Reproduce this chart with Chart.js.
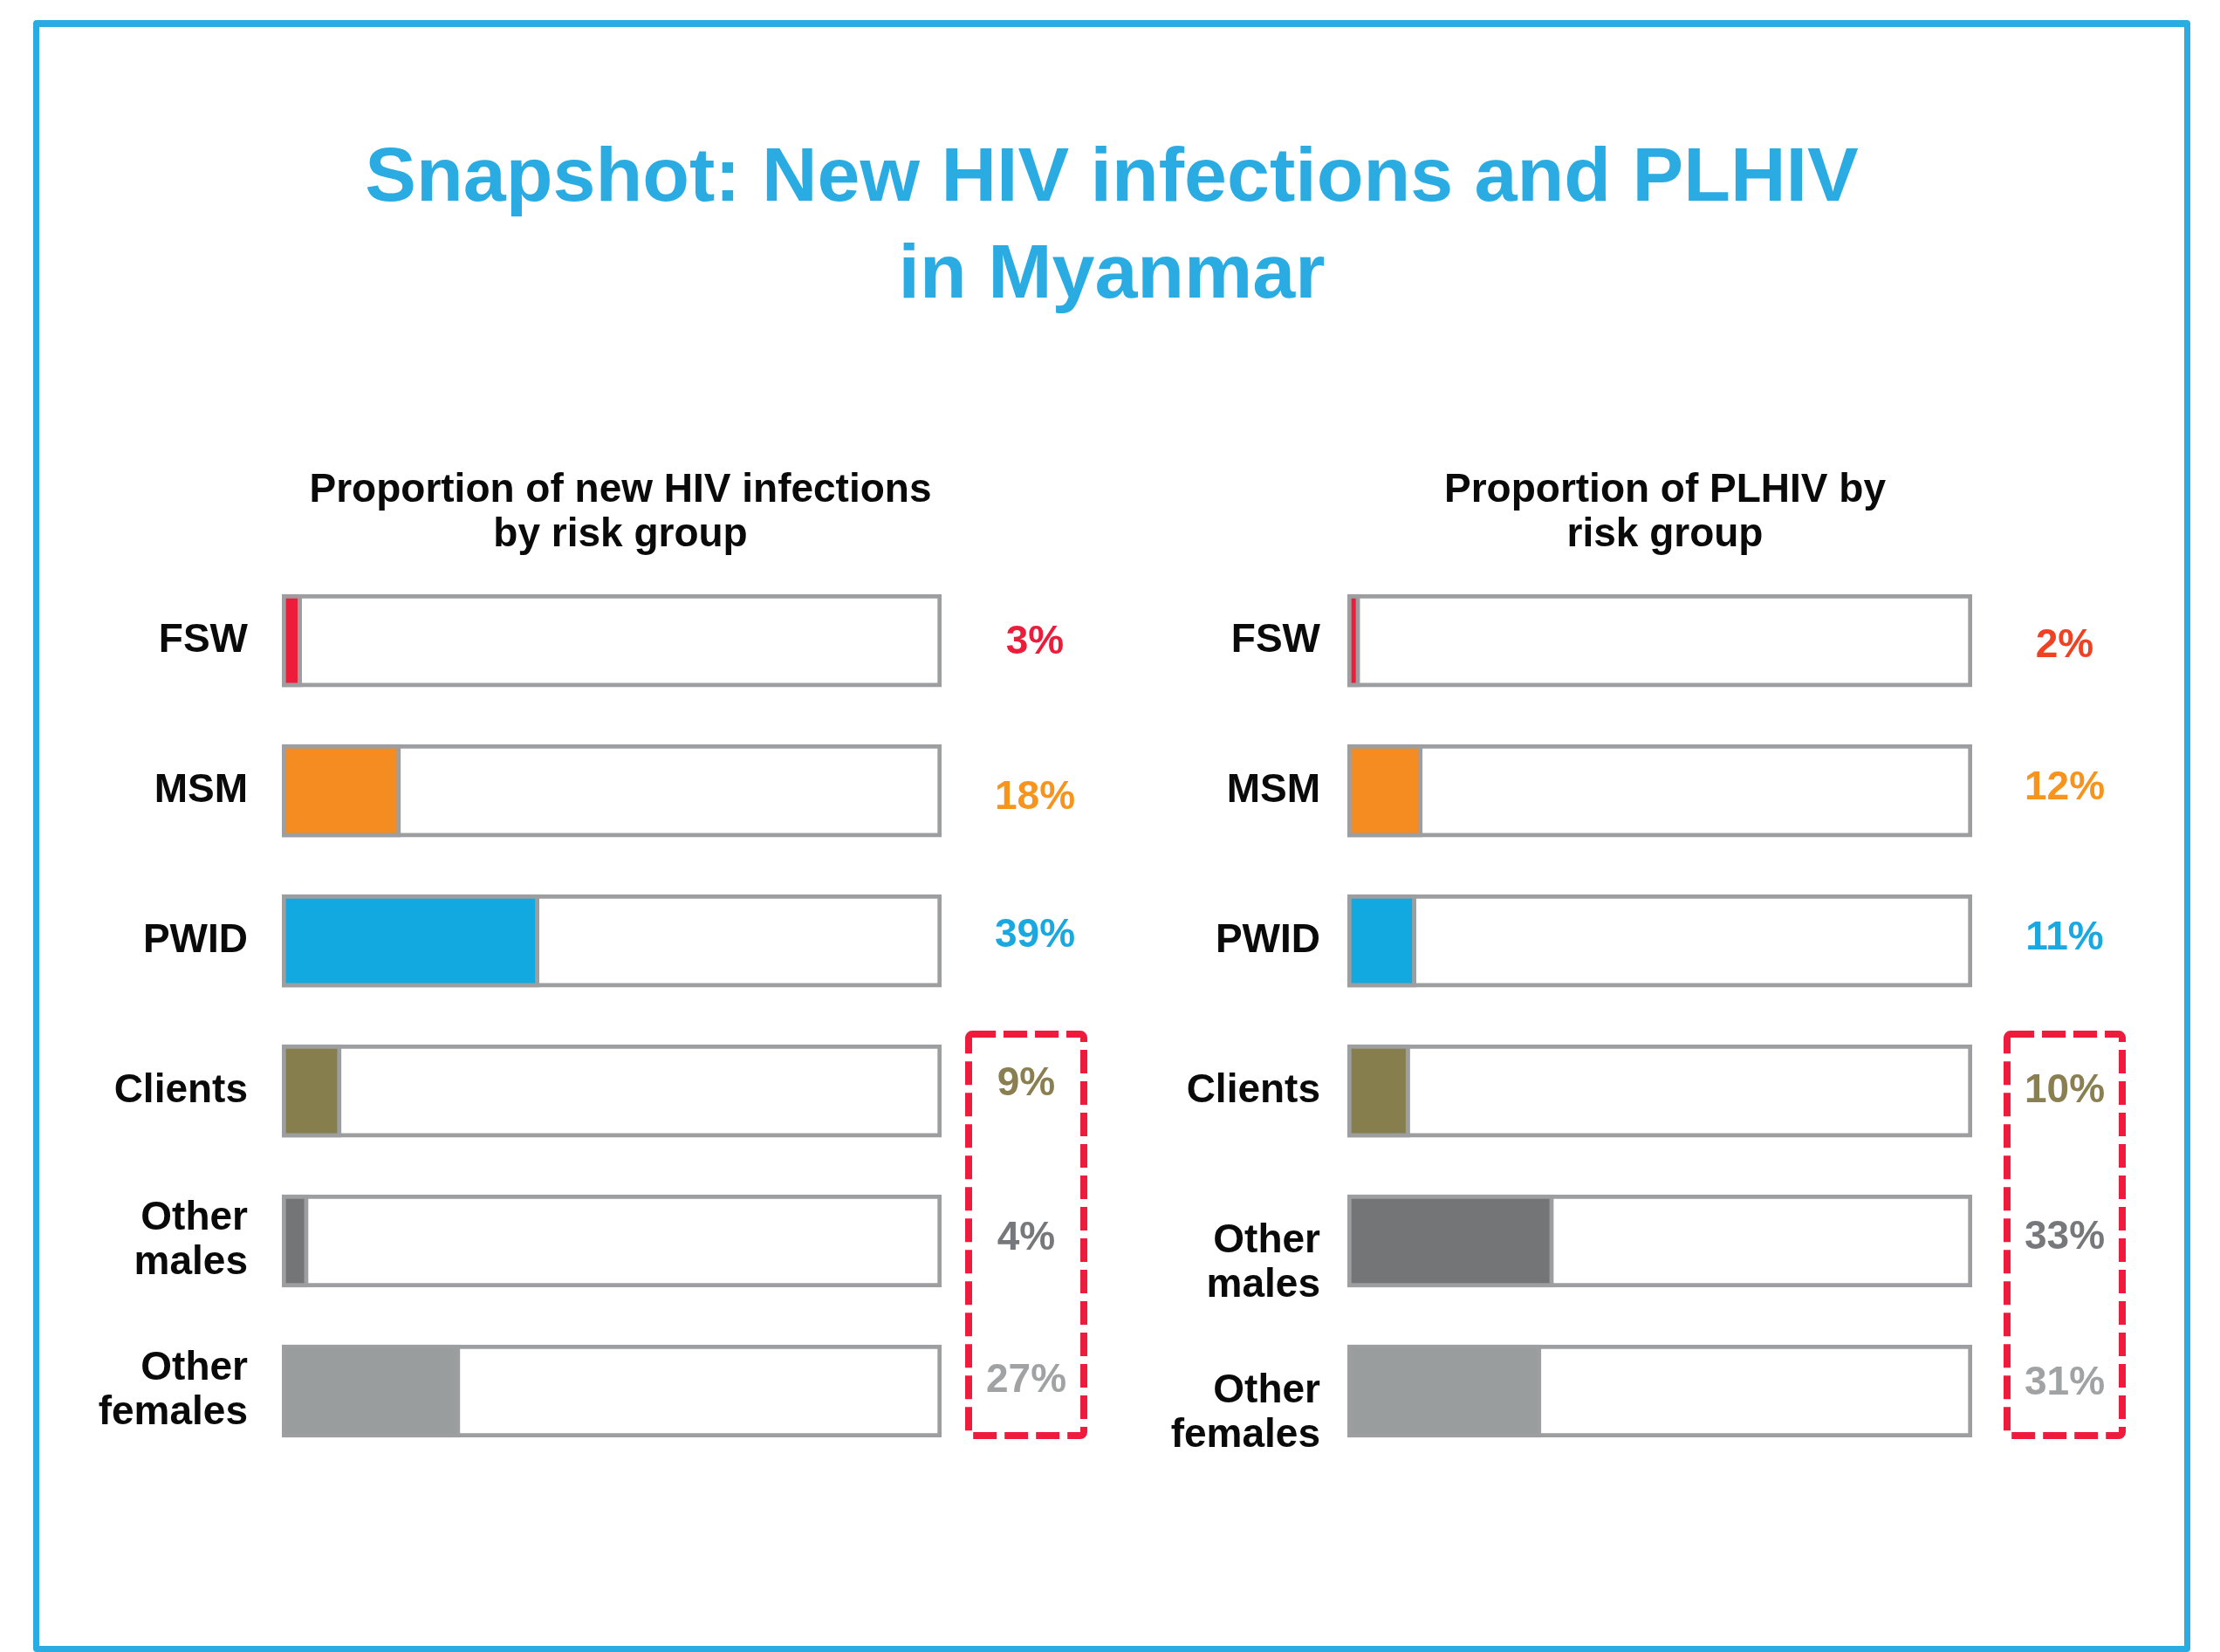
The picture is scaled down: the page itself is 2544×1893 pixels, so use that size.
<!DOCTYPE html>
<html>
<head>
<meta charset="utf-8">
<script src="https://cdn.jsdelivr.net/npm/chart.js@4.4.1/dist/chart.umd.min.js"></script>
<style>
html, body { margin: 0; padding: 0; background: #ffffff; }
body { width: 2544px; height: 1893px; position: relative; overflow: hidden; font-family: "Liberation Sans", Arial, sans-serif; }
#frame { position: absolute; left: 38px; top: 23px; width: 2472px; height: 1870px; box-sizing: border-box; border: 7px solid #2AACE2; border-top-width: 8px; border-radius: 4px; }
#title { position: absolute; left: 0; top: 144px; width: 2548px; text-align: center; font-weight: bold; font-size: 88px; line-height: 111px; color: #2AACE2; }
.wrap { position: absolute; top: 480px; height: 1200px; }
#leftWrap { left: 70px; width: 1282px; }
#rightWrap { left: 1330px; width: 1156px; }
canvas { display: block; }
</style>
</head>
<body>
<div id="frame"></div>
<div id="title">Snapshot: New HIV infections and PLHIV<br>in Myanmar</div>
<div class="wrap" id="leftWrap"><canvas id="leftChart" width="1282" height="1200"></canvas></div>
<div class="wrap" id="rightWrap"><canvas id="rightChart" width="1156" height="1200"></canvas></div>
<script>
// ---- data ----
const categories = ['FSW', 'MSM', 'PWID', 'Clients', ['Other', 'males'], ['Other', 'females']];
const newInfectionsPct = [3, 18, 39, 9, 4, 27];
const plhivPct = [2, 12, 11, 10, 33, 31];
const trackPct = [100, 100, 100, 100, 100, 100];
const leftTitle = ['Proportion of new HIV infections', 'by risk group'];
const rightTitle = ['Proportion of PLHIV by', 'risk group'];

// ---- styles ----
const fillColors = ['#ED1C3A', '#F58C22', '#12A9E0', '#877E4E', '#747577', '#9A9D9E'];
const leftLabelColors = ['#EA1D3B', '#F7941D', '#1AA8E0', '#8A7F50', '#77787B', '#A0A2A3'];
const rightLabelColors = ['#EF4123', '#F7941D', '#1AA8E0', '#8A7F50', '#77787B', '#A0A2A3'];
const leftLabelDy = [2, 8, -6, -8, -3, -12];
const rightLabelDy = [6, -3, -3, 0, -4, -9];
const trackGray = '#9C9E9F';
const FONT = '"Liberation Sans", Arial, sans-serif';
const BAR = 106;

Chart.defaults.font.family = FONT;

const overlayPlugin = {
  id: 'overlay',
  afterDatasetsDraw(chart, args, opts) {
    const ctx = chart.ctx;
    const y = chart.scales.y;
    const area = chart.chartArea;
    const vals = chart.data.datasets[1].data;
    const cx = area.right + opts.labelOffset;
    ctx.save();
    ctx.font = 'bold 46px ' + FONT;
    ctx.textAlign = 'center';
    ctx.textBaseline = 'middle';
    vals.forEach((v, i) => {
      ctx.fillStyle = opts.colors[i];
      const dx = i < opts.boxFrom ? opts.outsideShift : 0;
      ctx.fillText(v + '%', cx + dx, y.getPixelForValue(i) + opts.dy[i]);
    });
    const half = BAR / 2;
    const top = y.getPixelForValue(opts.boxFrom) - half - 12;
    const bottom = y.getPixelForValue(opts.boxTo) + half - 2;
    ctx.setLineDash([27, 9]);
    ctx.lineWidth = 8;
    ctx.strokeStyle = '#EE1B3D';
    ctx.lineJoin = 'round';
    ctx.beginPath();
    if (ctx.roundRect) ctx.roundRect(cx - 66, top, 132, bottom - top, 4);
    else ctx.rect(cx - 66, top, 132, bottom - top);
    ctx.stroke();
    ctx.restore();
  }
};

function makeChart(id, values, title, cfg) {
  return new Chart(document.getElementById(id), {
    type: 'bar',
    data: {
      labels: categories,
      datasets: [
        {
          data: trackPct, backgroundColor: '#ffffff', borderColor: trackGray, borderWidth: 5,
          borderSkipped: false, grouped: false, order: 2, barThickness: BAR
        },
        {
          data: values, backgroundColor: fillColors, borderColor: trackGray, borderWidth: 5,
          borderSkipped: false, grouped: false, order: 1, barThickness: BAR
        }
      ]
    },
    plugins: [overlayPlugin],
    options: {
      indexAxis: 'y',
      responsive: false,
      animation: false,
      devicePixelRatio: 1,
      layout: { padding: 0 },
      scales: {
        x: { type: 'linear', min: 0, max: 100, display: false },
        y: {
          type: 'category',
          grid: { display: false, drawTicks: false },
          border: { display: false },
          ticks: {
            color: '#0a0a0a',
            padding: cfg.tickPad,
            font: { size: 46, weight: 'bold', lineHeight: 1.12 },
            callback: function (value, index) {
              const l = categories[index];
              if (cfg.shiftMultiline && Array.isArray(l)) return [''].concat(l);
              return l;
            }
          },
          afterFit(scale) {
            scale.width = cfg.axisWidth;
            scale.paddingTop = 0;
            scale.paddingBottom = 0;
          }
        },
        yRight: {
          type: 'category',
          position: 'right',
          display: true,
          grid: { display: false, drawTicks: false },
          border: { display: false },
          ticks: { display: false },
          afterFit(scale) {
            scale.width = cfg.rightSpace;
            scale.paddingTop = 0;
            scale.paddingBottom = 0;
          }
        }
      },
      plugins: {
        legend: { display: false },
        tooltip: { enabled: false },
        title: {
          display: true,
          text: title,
          fullSize: true,
          color: '#0a0a0a',
          font: { size: 46, weight: 'bold', lineHeight: 1.11 },
          padding: { top: 57, bottom: 9 }
        },
        overlay: {
          labelOffset: cfg.labelOffset, colors: cfg.labelColors, dy: cfg.labelDy,
          outsideShift: cfg.outsideShift, boxFrom: 3, boxTo: 5
        }
      }
    }
  });
}

makeChart('leftChart', newInfectionsPct, leftTitle, {
  axisWidth: 253, tickPad: 39, rightSpace: 273, labelOffset: 97, outsideShift: 10,
  labelColors: leftLabelColors, labelDy: leftLabelDy, shiftMultiline: false
});
makeChart('rightChart', plhivPct, rightTitle, {
  axisWidth: 214, tickPad: 31, rightSpace: 226, labelOffset: 106, outsideShift: 0,
  labelColors: rightLabelColors, labelDy: rightLabelDy, shiftMultiline: true
});
</script>
</body>
</html>
